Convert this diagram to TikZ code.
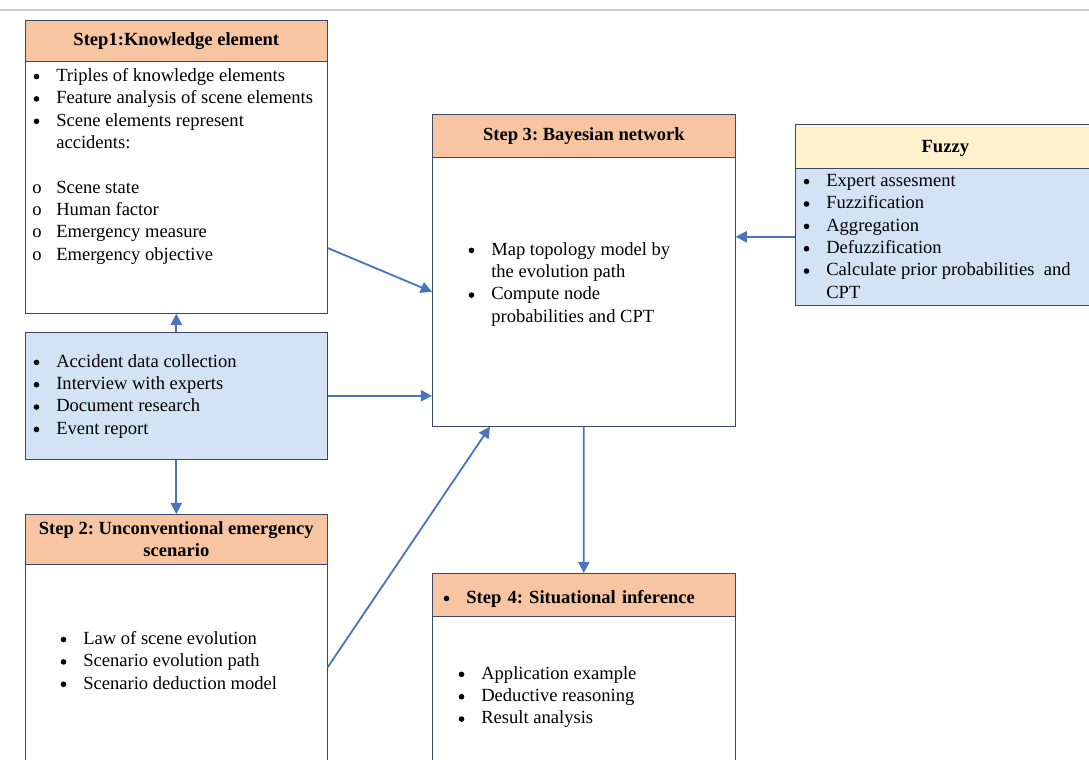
\documentclass[tikz,border=0pt]{standalone}
\usepackage{fontspec}
\setmainfont{Liberation Serif}
\usetikzlibrary{calc}
\usetikzlibrary{positioning}
\usetikzlibrary{arrows.meta}

\definecolor{headorange}{HTML}{F8C5A3}
\definecolor{fuzzyyellow}{HTML}{FFF2CC}
\definecolor{bodyblue}{HTML}{D3E2F4}
\definecolor{framenavy}{HTML}{3B4766}
\definecolor{arrowblue}{HTML}{4A74BE}
\newcommand{\bul}{\makebox[0.6cm][l]{\hspace*{1pt}\tikz[baseline = -3.4pt]\fill[black] (0, 0) circle (2pt);}}
\newcommand{\opb}{\makebox[0.6cm][l]{o}}
\newcommand{\ind}{\hspace*{0.6cm}}
\frenchspacing

\tikzset{
    head/.style = {draw = framenavy, fill = headorange, anchor = north west, inner sep = 0pt,
                   font = \bfseries\fontsize{13.2}{16}\selectfont, align = center},
    body/.style = {draw = framenavy, anchor = north west, inner sep = 0pt},
    items/.style = {anchor = north west, inner sep = 0pt, align = left,
                    font = \fontsize{13.2}{15.9}\selectfont},
    flow/.style = {-{Triangle[length = 8pt, width = 8pt]}, arrowblue, line width = 1.3pt}
}

\begin{document}
\begin{tikzpicture}[x = 0.025cm, y = -0.025cm]
            \useasboundingbox (0, 0) rectangle (1089, 760);
            \draw [black!20, line width = 0.8pt] (0, 10) -- (1089, 10);

            % step 1
            \node [body, minimum width = 7.55cm, minimum height = 6.3cm] (s1b) at (25, 61) {};
            \node [head, minimum width = 7.55cm, minimum height = 1.025cm] (s1h) at (25, 20) {Step1:Knowledge element};
            \node [items] (s1t) at (32, 68) {\bul Triples of knowledge elements\\
                \bul Feature analysis of scene elements\\
                \bul Scene elements represent\\
                \ind accidents:\\[15.9pt]
                \opb Scene state\\
                \opb Human factor\\
                \opb Emergency measure\\
                \opb Emergency objective};

            % data sources
            \node [body, fill = bodyblue, minimum width = 7.55cm, minimum height = 3.175cm] (data) at (25, 332) {};
            \node [items] (datat) at (32, 354) {\bul Accident data collection\\
                \bul Interview with experts\\
                \bul Document research\\
                \bul Event report};

            % step 2
            \node [body, minimum width = 7.55cm, minimum height = 5.15cm] (s2b) at (25, 564) {};
            \node [head, minimum width = 7.55cm, minimum height = 1.25cm] (s2h) at (25, 514) {Step 2: Unconventional emergency\\scenario};
            \node [items] (s2t) at (59, 631) {\bul Law of scene evolution\\
                \bul Scenario evolution path\\
                \bul Scenario deduction model};

            % step 3
            \node [body, minimum width = 7.575cm, minimum height = 6.725cm] (s3b) at (432, 157) {};
            \node [head, minimum width = 7.575cm, minimum height = 1.075cm] (s3h) at (432, 114) {Step 3: Bayesian network};
            \node [items] (s3t) at (467, 242) {\bul Map topology model by\\
                \ind the evolution path\\
                \bul Compute node\\
                \ind probabilities and CPT};

            % fuzzy
            \node [body, fill = bodyblue, minimum width = 7.5cm, minimum height = 3.425cm] (fb) at (795, 168) {};
            \node [head, fill = fuzzyyellow, minimum width = 7.5cm, minimum height = 1.1cm, text height = 12pt, text depth = 3pt] (fh) at (795, 124) {Fuzzy};
            \node [items] (ft) at (802, 174) {\bul Expert assesment\\
                \bul Fuzzification\\
                \bul Aggregation\\
                \bul Defuzzification\\
                \bul Calculate prior probabilities\ \ and\\
                \ind CPT};

            % step 4
            \node [body, minimum width = 7.575cm, minimum height = 3.75cm] (s4b) at (432, 616) {};
            \node [head, minimum height = 1.075cm, text width = 7.075cm, inner xsep = 0.25cm, align = left,
                   text height = 15pt, text depth = 3pt] (s4h) at (432, 573) {\bul Step 4: Situational inference};
            \node [items] (s4t) at (457, 666) {\bul Application example\\
                \bul Deductive reasoning\\
                \bul Result analysis};

            \coordinate (s1out) at ($(s1b.north east) + (0, 187)$);
            \coordinate (s3in) at ($(s3b.south west) + (58, 0)$);

            \draw [flow] (s1out) -- (s3b.west);
            \draw [flow] (data.north) -- (s1b.south);
            \draw [flow] (data.east) -- (s3b.west |- data.east);
            \draw [flow] (data.south) -- (s2h.north);
            \draw [flow] (s2b.east) -- (s3in);
            \draw [flow] (s3b.south) -- (s4h.north);
            \draw [flow] (fb.west) -- (s3b.east |- fb.west);
        \end{tikzpicture}
\end{document}
